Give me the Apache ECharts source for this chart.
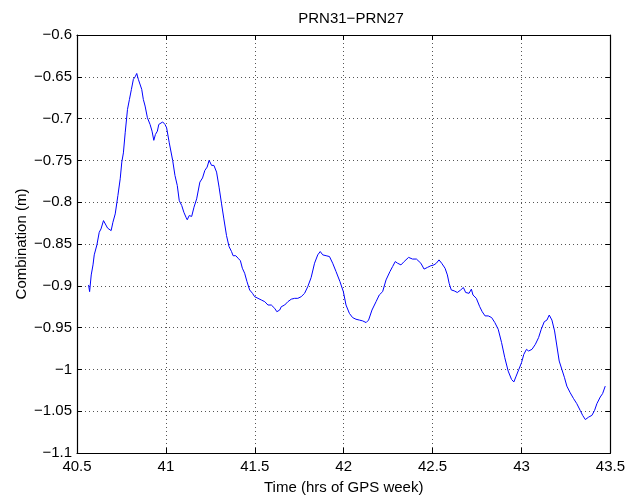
<!DOCTYPE html>
<html>
<head>
<meta charset="utf-8">
<title>PRN31-PRN27</title>
<script src="https://cdn.jsdelivr.net/npm/echarts@6/dist/echarts.min.js"></script>
<style>
html, body { margin: 0; padding: 0; background: #fff; }
#chart { width: 628px; height: 500px; }
</style>
</head>
<body>
<div id="chart"></div>
<script>
// values
var timeHrs = [
	40.565, 40.571, 40.580, 40.590, 40.597, 40.612, 40.625, 40.635, 40.649, 40.659,
	40.672, 40.683, 40.692, 40.702, 40.715, 40.730, 40.743, 40.752, 40.761, 40.771,
	40.784, 40.795, 40.806, 40.817, 40.827, 40.836, 40.845, 40.855, 40.864, 40.873,
	40.883, 40.896, 40.911, 40.922, 40.932, 40.941, 40.952, 40.960, 40.971, 40.982,
	40.995, 41.004, 41.019, 41.038, 41.051, 41.064, 41.075, 41.089, 41.101, 41.113,
	41.120, 41.131, 41.145, 41.158, 41.173, 41.191, 41.206, 41.219, 41.232, 41.243,
	41.257, 41.270, 41.285, 41.299, 41.313, 41.326, 41.341, 41.355, 41.369, 41.378,
	41.393, 41.406, 41.419, 41.430, 41.443, 41.456, 41.471, 41.487, 41.499, 41.518,
	41.537, 41.556, 41.574, 41.593, 41.612, 41.624, 41.640, 41.649, 41.668, 41.686,
	41.705, 41.724, 41.742, 41.761, 41.780, 41.798, 41.817, 41.836, 41.854, 41.868,
	41.882, 41.901, 41.920, 41.938, 41.957, 41.979, 41.998, 42.013, 42.032, 42.050,
	42.069, 42.088, 42.107, 42.126, 42.140, 42.159, 42.182, 42.200, 42.219, 42.238,
	42.260, 42.275, 42.290, 42.303, 42.322, 42.340, 42.365, 42.387, 42.409, 42.434,
	42.452, 42.471, 42.490, 42.508, 42.521, 42.536, 42.551, 42.570, 42.583, 42.593,
	42.605, 42.621, 42.639, 42.658, 42.673, 42.686, 42.705, 42.718, 42.727, 42.746,
	42.765, 42.779, 42.795, 42.813, 42.832, 42.850, 42.869, 42.888, 42.906, 42.925,
	42.944, 42.957, 42.970, 42.985, 43.000, 43.013, 43.028, 43.040, 43.059, 43.078,
	43.096, 43.111, 43.128, 43.143, 43.156, 43.171, 43.186, 43.199, 43.212, 43.227,
	43.242, 43.255, 43.274, 43.293, 43.311, 43.330, 43.344, 43.359, 43.378, 43.396,
	43.411, 43.424, 43.443, 43.456, 43.471
];
var combination = [
	-0.899, -0.907, -0.887, -0.875, -0.863, -0.851, -0.836, -0.832, -0.822, -0.824,
	-0.831, -0.831, -0.834, -0.824, -0.814, -0.792, -0.772, -0.752, -0.741, -0.717,
	-0.689, -0.677, -0.665, -0.653, -0.650, -0.646, -0.653, -0.655, -0.665, -0.677,
	-0.685, -0.699, -0.707, -0.715, -0.726, -0.719, -0.715, -0.707, -0.705, -0.704,
	-0.707, -0.711, -0.729, -0.750, -0.768, -0.780, -0.798, -0.804, -0.812, -0.818,
	-0.821, -0.816, -0.817, -0.806, -0.796, -0.776, -0.771, -0.762, -0.758, -0.750,
	-0.756, -0.756, -0.764, -0.782, -0.802, -0.820, -0.840, -0.853, -0.859, -0.864,
	-0.864, -0.867, -0.870, -0.879, -0.885, -0.895, -0.905, -0.909, -0.913, -0.915,
	-0.917, -0.919, -0.923, -0.923, -0.927, -0.931, -0.929, -0.925, -0.923, -0.919,
	-0.916, -0.915, -0.915, -0.913, -0.909, -0.901, -0.890, -0.873, -0.863, -0.859,
	-0.863, -0.864, -0.865, -0.873, -0.883, -0.895, -0.907, -0.923, -0.933, -0.938,
	-0.940, -0.941, -0.942, -0.944, -0.941, -0.929, -0.919, -0.911, -0.907, -0.893,
	-0.883, -0.877, -0.871, -0.873, -0.875, -0.871, -0.866, -0.868, -0.868, -0.873,
	-0.880, -0.878, -0.876, -0.875, -0.873, -0.869, -0.873, -0.879, -0.887, -0.897,
	-0.905, -0.906, -0.908, -0.905, -0.902, -0.908, -0.909, -0.904, -0.911, -0.915,
	-0.925, -0.931, -0.936, -0.936, -0.938, -0.944, -0.952, -0.968, -0.986, -1.002,
	-1.012, -1.015, -1.008, -1.000, -0.992, -0.982, -0.976, -0.978, -0.976, -0.970,
	-0.962, -0.952, -0.943, -0.941, -0.935, -0.941, -0.954, -0.972, -0.990, -1.000,
	-1.010, -1.020, -1.028, -1.035, -1.041, -1.049, -1.055, -1.060, -1.057, -1.055,
	-1.049, -1.041, -1.033, -1.029, -1.020
];

var font = 'Liberation Sans, Helvetica, Arial, sans-serif';

function minus(v) {
	return String(v).replace('-', '\u2212');
}

var points = [];
for (var i = 0; i < timeHrs.length; i++) {
	points.push([timeHrs[i], combination[i]]);
}

var tick = {show: true, inside: true, length: 5, lineStyle: {color: '#000', width: 1}};
var line = {show: true, onZero: false, lineStyle: {color: '#000', width: 1.2}};
var grid = {show: true, lineStyle: {color: '#555', width: 1, type: [1, 3]}};

var s = echarts.init(document.getElementById('chart'));
var c = {
	animation: false,
	textStyle: {fontFamily: font},
	title: {
		text: 'PRN31\u2212PRN27',
		left: 346,
		textAlign: 'center',
		top: 6,
		textStyle: {fontFamily: font, fontSize: 15, fontWeight: 'normal', color: '#000'}
	},
	grid: {left: 77, right: 17, top: 35, bottom: 44},
	xAxis: [{
		type: 'value', min: 40.5, max: 43.5, interval: 0.5,
		name: 'Time (hrs of GPS week)', nameLocation: 'middle', nameGap: 27,
		nameTextStyle: {fontFamily: font, fontSize: 15, color: '#000'},
		axisLine: line, axisTick: tick, splitLine: grid,
		axisLabel: {fontFamily: font, fontSize: 15, color: '#000', margin: 6, formatter: minus}
	}, {
		type: 'value', min: 40.5, max: 43.5, interval: 0.5, position: 'top',
		axisLine: line, axisTick: tick, splitLine: {show: false}, axisLabel: {show: false}
	}],
	yAxis: [{
		type: 'value', min: -1.1, max: -0.6, interval: 0.05,
		name: 'Combination (m)', nameLocation: 'middle', nameGap: 48, nameMoveOverlap: false,
		nameTextStyle: {fontFamily: font, fontSize: 15, color: '#000'},
		axisLine: line, axisTick: tick, splitLine: grid,
		axisLabel: {fontFamily: font, fontSize: 15, color: '#000', margin: 5, formatter: function (v) {
			return minus(Math.round(v * 100) / 100);
		}}
	}, {
		type: 'value', min: -1.1, max: -0.6, interval: 0.05, position: 'right',
		axisLine: line, axisTick: tick, splitLine: {show: false}, axisLabel: {show: false}
	}],
	series: [{
		name: 'PRN31-PRN27',
		type: 'line',
		showSymbol: false,
		lineStyle: {color: '#0000ff', width: 1},
		data: points
	}]
};
s.setOption(c);
</script>
</body>
</html>
